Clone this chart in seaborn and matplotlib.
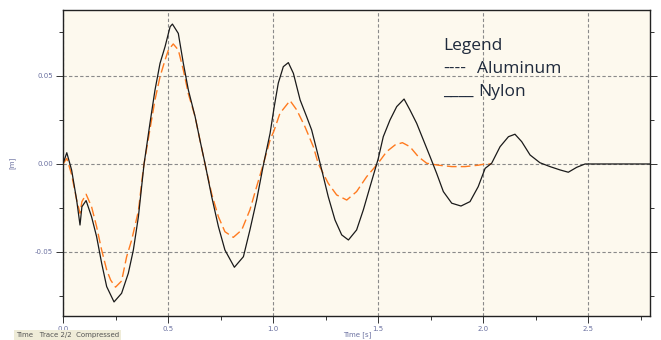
import numpy as np
import pandas as pd
import matplotlib
matplotlib.use("Agg")
import matplotlib.pyplot as plt
from matplotlib.ticker import MultipleLocator
import seaborn as sns

# Nylon (solid black) trace
nylon_t = [0.000, 0.018, 0.041, 0.065, 0.081, 0.090, 0.110, 0.136, 0.160, 0.184,
           0.208, 0.243, 0.279, 0.311, 0.335, 0.359, 0.386, 0.414, 0.438, 0.462,
           0.486, 0.510, 0.521, 0.549, 0.573, 0.597, 0.629, 0.652, 0.676, 0.708,
           0.740, 0.771, 0.816, 0.859, 0.890, 0.922, 0.954, 0.986, 1.005, 1.025,
           1.049, 1.073, 1.097, 1.129, 1.160, 1.184, 1.208, 1.232, 1.263, 1.295,
           1.327, 1.359, 1.398, 1.430, 1.462, 1.501, 1.525, 1.557, 1.589, 1.624,
           1.652, 1.684, 1.716, 1.748, 1.779, 1.811, 1.851, 1.895, 1.938, 1.977,
           2.010, 2.041, 2.081, 2.121, 2.152, 2.184, 2.224, 2.271, 2.319, 2.367,
           2.406, 2.446, 2.486, 2.800]
nylon_v = [0.0000, 0.0064, -0.0034, -0.0205, -0.0347, -0.0243, -0.0208, -0.0300, -0.0413, -0.0564,
           -0.0697, -0.0784, -0.0735, -0.0621, -0.0489, -0.0300, 0.0000, 0.0231, 0.0420, 0.0572,
           0.0667, 0.0780, 0.0795, 0.0742, 0.0572, 0.0420, 0.0269, 0.0136, 0.0004, -0.0186,
           -0.0356, -0.0489, -0.0587, -0.0527, -0.0375, -0.0205, -0.0006, 0.0174, 0.0320, 0.0459,
           0.0553, 0.0576, 0.0515, 0.0364, 0.0269, 0.0193, 0.0080, -0.0034, -0.0186, -0.0318,
           -0.0403, -0.0432, -0.0375, -0.0261, -0.0129, 0.0030, 0.0155, 0.0250, 0.0326, 0.0369,
           0.0307, 0.0231, 0.0136, 0.0041, -0.0053, -0.0157, -0.0223, -0.0239, -0.0214, -0.0129,
           -0.0025, 0.0004, 0.0098, 0.0155, 0.0169, 0.0127, 0.0051, 0.0007, -0.0015, -0.0034,
           -0.0047, -0.0019, 0.0000, 0.0000]

# Aluminum (dashed orange) trace
alu_t = [0.000, 0.018, 0.041, 0.065, 0.081, 0.090, 0.110, 0.136, 0.160, 0.184,
         0.208, 0.227, 0.250, 0.279, 0.303, 0.327, 0.359, 0.383, 0.414, 0.438,
         0.462, 0.486, 0.502, 0.525, 0.549, 0.573, 0.597, 0.629, 0.652, 0.676,
         0.708, 0.740, 0.771, 0.811, 0.851, 0.890, 0.922, 0.954, 0.986, 1.005,
         1.033, 1.081, 1.113, 1.152, 1.192, 1.216, 1.263, 1.303, 1.351, 1.398,
         1.446, 1.501, 1.541, 1.581, 1.616, 1.652, 1.692, 1.732, 1.787, 1.851,
         1.914, 1.977, 2.010, 2.040]
alu_v = [0.0000, 0.0032, -0.0060, -0.0205, -0.0280, -0.0214, -0.0172, -0.0243, -0.0356, -0.0489,
         -0.0602, -0.0660, -0.0700, -0.0665, -0.0527, -0.0432, -0.0267, -0.0020, 0.0197, 0.0364,
         0.0496, 0.0591, 0.0648, 0.0682, 0.0648, 0.0534, 0.0398, 0.0269, 0.0136, 0.0000,
         -0.0170, -0.0300, -0.0385, -0.0417, -0.0375, -0.0261, -0.0129, 0.0000, 0.0136, 0.0190,
         0.0288, 0.0360, 0.0307, 0.0212, 0.0098, 0.0000, -0.0110, -0.0176, -0.0205, -0.0157,
         -0.0072, 0.0005, 0.0070, 0.0108, 0.0121, 0.0098, 0.0041, 0.0004, -0.0007, -0.0015,
         -0.0015, -0.0007, 0.0000, 0.0000]

x_ticks = [0.0, 0.5, 1.0, 1.5, 2.0, 2.5]
x_labels = ["0.0", "0.5", "1.0", "1.5", "2.0", "2.5"]
y_ticks = [-0.05, 0.0, 0.05]
y_labels = ["-0.05", "0.00", "0.05"]

nylon_df = pd.DataFrame({"t": nylon_t, "v": nylon_v})
alu_df = pd.DataFrame({"t": alu_t, "v": alu_v})

sns.set_style("ticks")
plt.rcParams["font.family"] = ["DejaVu Sans"]

fig = plt.figure(figsize=(6.61, 3.40), dpi=100)
ax = fig.add_axes([63 / 661, 24 / 340, 587 / 661, 306 / 340])
ax.set_facecolor("#fdf9ee")

ax.grid(True, which="major", color="#8a8a8a", linestyle=(0, (3, 2)), linewidth=0.8)
ax.set_axisbelow(True)

sns.lineplot(data=alu_df, x="t", y="v", sort=False, estimator=None, ax=ax,
             color="#ff7a1f", linewidth=1.0, zorder=3)
ax.lines[-1].set_dashes([7, 3])
sns.lineplot(data=nylon_df, x="t", y="v", sort=False, estimator=None, ax=ax,
             color="#1a1a1a", linewidth=0.9, zorder=4)

ax.set_xlim(0, 2.795)
ax.set_ylim(-0.0864, 0.0875)
ax.set_xticks(x_ticks)
ax.set_xticklabels(x_labels)
ax.set_yticks(y_ticks)
ax.set_yticklabels(y_labels)
ax.xaxis.set_minor_locator(MultipleLocator(0.25))
ax.yaxis.set_minor_locator(MultipleLocator(0.025))
ax.tick_params(which="both", direction="out", labelsize=5, labelcolor="#6a70a0",
               color="#333333", width=0.7, right=True, pad=2)
ax.tick_params(which="major", length=5)
ax.tick_params(which="minor", length=3)

for s in ax.spines.values():
    s.set_color("#222222")
    s.set_linewidth(1.0)

ax.set_xlabel("")
ax.set_ylabel("[m]", fontsize=5, color="#6a70a0", labelpad=14)
fig.text(357 / 661, 5 / 340, "Time [s]", fontsize=5, color="#6a70a0",
         va="center", ha="center")

# hand-written legend, as in the original
leg_kw = dict(fontsize=12.5, color="#1f2a3c", family=["Open Sans", "DejaVu Sans"],
              va="center", ha="left")
fig.text(443 / 661, 1 - 46 / 340, "Legend", **leg_kw)
fig.text(443 / 661, 1 - 69 / 340, "----", **leg_kw)
fig.text(477 / 661, 1 - 69 / 340, "Aluminum", **leg_kw)
fig.text(443 / 661, 1 - 92 / 340, "____", **leg_kw)
fig.text(478 / 661, 1 - 92 / 340, "Nylon", **leg_kw)

fig.text(16 / 661, 5 / 340, "Time   Trace 2/2  Compressed", fontsize=5, color="#555555",
         va="center", ha="left",
         bbox=dict(facecolor="#efecd8", edgecolor="none", pad=1.2))

fig.savefig("out.png", dpi=100)
